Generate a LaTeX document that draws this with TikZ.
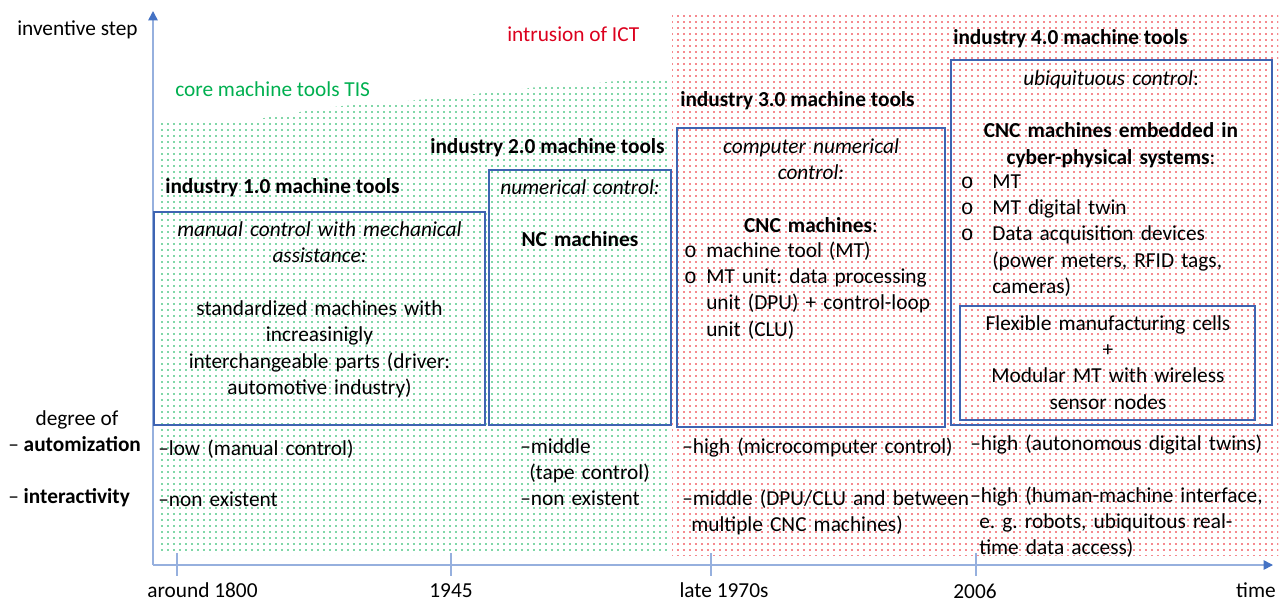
\documentclass[tikz,border=0pt]{standalone}
\usepackage{fontspec}
\setmainfont{Carlito}
\newfontfamily\bulfont{Liberation Mono}
\usetikzlibrary{arrows.meta,patterns.meta,fit}
\definecolor{boxblue}{RGB}{62,100,178}
\definecolor{axisblue}{RGB}{150,176,222}
\definecolor{tipblue}{RGB}{68,114,196}
\definecolor{dotgreen}{RGB}{0,176,80}
\definecolor{dotred}{RGB}{235,20,30}
\definecolor{tisgreen}{RGB}{0,176,80}
\definecolor{ictred}{RGB}{220,0,30}
\newcommand{\bulA}{\leavevmode\llap{{\bulfont o}\hspace{7pt}}}
\newcommand{\bulB}{\leavevmode\llap{{\bulfont o}\hspace{14pt}}}
\frenchspacing
\begin{document}
\frenchspacing
\begin{tikzpicture}[x=0.75pt,y=-0.75pt,
  txt/.style={font=\fontsize{16pt}{19.8pt}\selectfont\frenchspacing, inner sep=0pt, anchor=base},
  ttl/.style={txt, font=\fontsize{16pt}{19.8pt}\selectfont\bfseries, anchor=base west},
  boxst/.style={draw=boxblue, line width=1.1pt, inner sep=0pt},
  axisst/.style={draw=axisblue, line width=1.2pt},
  tickst/.style={draw=axisblue, line width=1pt},
  blk/.style={txt, align=center, text width=#1},
  lst/.style={txt, align=left, anchor=base west, text width=#1},
  tipst/.style={-{Triangle[length=7pt,width=7pt,color=tipblue]}},
  dotsA/.style={pattern={Dots[distance=4.5pt,radius=0.65pt]}},
]
\fill[white] (0,0) rectangle (1281,604);
\useasboundingbox (0,0) rectangle (1281,604);

% shaded regions
\fill[dotsA, pattern color=dotgreen]
  (157,123) -- (235,123) -- (330,107) -- (430,99) -- (530,88) -- (671,77)
  -- (671,555) -- (157,555) -- cycle;
\fill[dotsA, pattern color=dotred]
  (672,14) rectangle (1278,555);

% axes
\coordinate (O) at (153,565);
\coordinate (Ytop) at (153,11);
\coordinate (Xend) at (1273,565);
\draw[axisst, tipst] (O) -- (Ytop);
\draw[axisst, tipst] (O) -- (Xend);
\coordinate (t1a) at (177,553); \coordinate (t1b) at (177,576);
\coordinate (t2a) at (451,553); \coordinate (t2b) at (451,576);
\coordinate (t3a) at (711,553); \coordinate (t3b) at (711,576);
\coordinate (t4a) at (976,553); \coordinate (t4b) at (976,576);
\draw[tickst] (t1a) -- (t1b);
\draw[tickst] (t2a) -- (t2b);
\draw[tickst] (t3a) -- (t3b);
\draw[tickst] (t4a) -- (t4b);

\node[txt] (l1800) at (202.5,597) {around 1800};
\node[txt] (l1945) at (451,597) {1945};
\node[txt] (l1970) at (724,597) {late 1970s};
\node[txt] (l2006) at (975,598) {2006};
\node[txt] (ltime) at (1256,597) {time};

% left labels
\node[txt, anchor=base west] (inv) at (17,35) {inventive step};
\node[txt] (deg) at (77,425) {degree of};
\node[txt, anchor=base west] (aut) at (8,451) {– \textbf{automization}};
\node[txt, anchor=base west] (inter) at (8,503) {– \textbf{interactivity}};

% region labels
\node[txt, anchor=base west, text=tisgreen] (tis) at (175,96) {core machine tools TIS};
\node[txt, anchor=base west, text=ictred] (ict) at (507,41) {intrusion of ICT};

% titles
\node[ttl] (ti1) at (165,193) {industry 1.0 machine tools};
\node[ttl] (ti2) at (430,153) {industry 2.0 machine tools};
\node[ttl] (ti3) at (680,106) {industry 3.0 machine tools};
\node[ttl] (ti4) at (953,44) {industry 4.0 machine tools};

% boxes
\node[boxst, fit={(154,212) (485,425)}] (box1) {};
\node[boxst, fit={(489,170) (671,425)}] (box2) {};
\node[boxst, fit={(677,128) (945,427)}] (box3) {};
\node[boxst, fit={(951,60) (1272,425)}] (box4) {};
\node[boxst, fit={(960,306) (1255,420)}] (box5) {};

% box 1
\node[blk=240pt] (b1t) at (319.5,236) {\textit{manual control with mechanical}\\
  \textit{assistance:}\\[\baselineskip]
  standardized machines with\\ increasinigly\\ interchangeable parts (driver:\\
  automotive industry)};
% box 2
\node[blk=130pt] (b2t) at (580,194) {\textit{numerical control:}\\[\baselineskip]
  \textbf{NC machines}};
% box 3
\node[blk=190pt] (b3t) at (811,153) {\textit{computer numerical}\\ \textit{control:}\\[\baselineskip]
  \textbf{CNC machines}:};
\node[lst=180pt] (b3l) at (706,257) {\bulA machine tool (MT)\\
  \bulA MT unit: data processing\\ unit (DPU) + control-loop\\ unit (CLU)};
% box 4
\node[blk=230pt] (b4t) at (1111,85) {\textit{ubiquituous control}:\\[\baselineskip]
  \textbf{CNC machines embedded in}\\ \textbf{cyber-physical systems}:};
\node[lst=200pt] (b4l) at (992,188) {\bulB MT\\ \bulB MT digital twin\\
  \bulB Data acquisition devices\\ (power meters, RFID tags,\\ cameras)};
\node[blk=210pt] (b5t) at (1108,330) {Flexible manufacturing cells\\ +\\
  Modular MT with wireless\\ sensor nodes};

% degree rows
\node[lst=200pt] (a1) at (158,455) {–low (manual control)};
\node[lst=200pt] (i1) at (158,506) {–non existent};
\node[lst=150pt] (a2) at (520,453) {–middle\\ \hspace*{6.75pt}(tape control)\\ –non existent};
\node[lst=220pt] (a3) at (682,453) {–high (microcomputer control)};
\node[lst=220pt] (i3) at (682,505) {–middle (DPU/CLU and between\\ \hspace*{6.75pt}multiple CNC machines)};
\node[lst=230pt] (a4) at (970,450) {–high (autonomous digital twins)};
\node[lst=230pt] (i4) at (970,502) {–high (human-machine interface,\\
  \hspace*{6.75pt}e. g. robots, ubiquitous real-\\ \hspace*{6.75pt}time data access)};
\end{tikzpicture}
\end{document}
